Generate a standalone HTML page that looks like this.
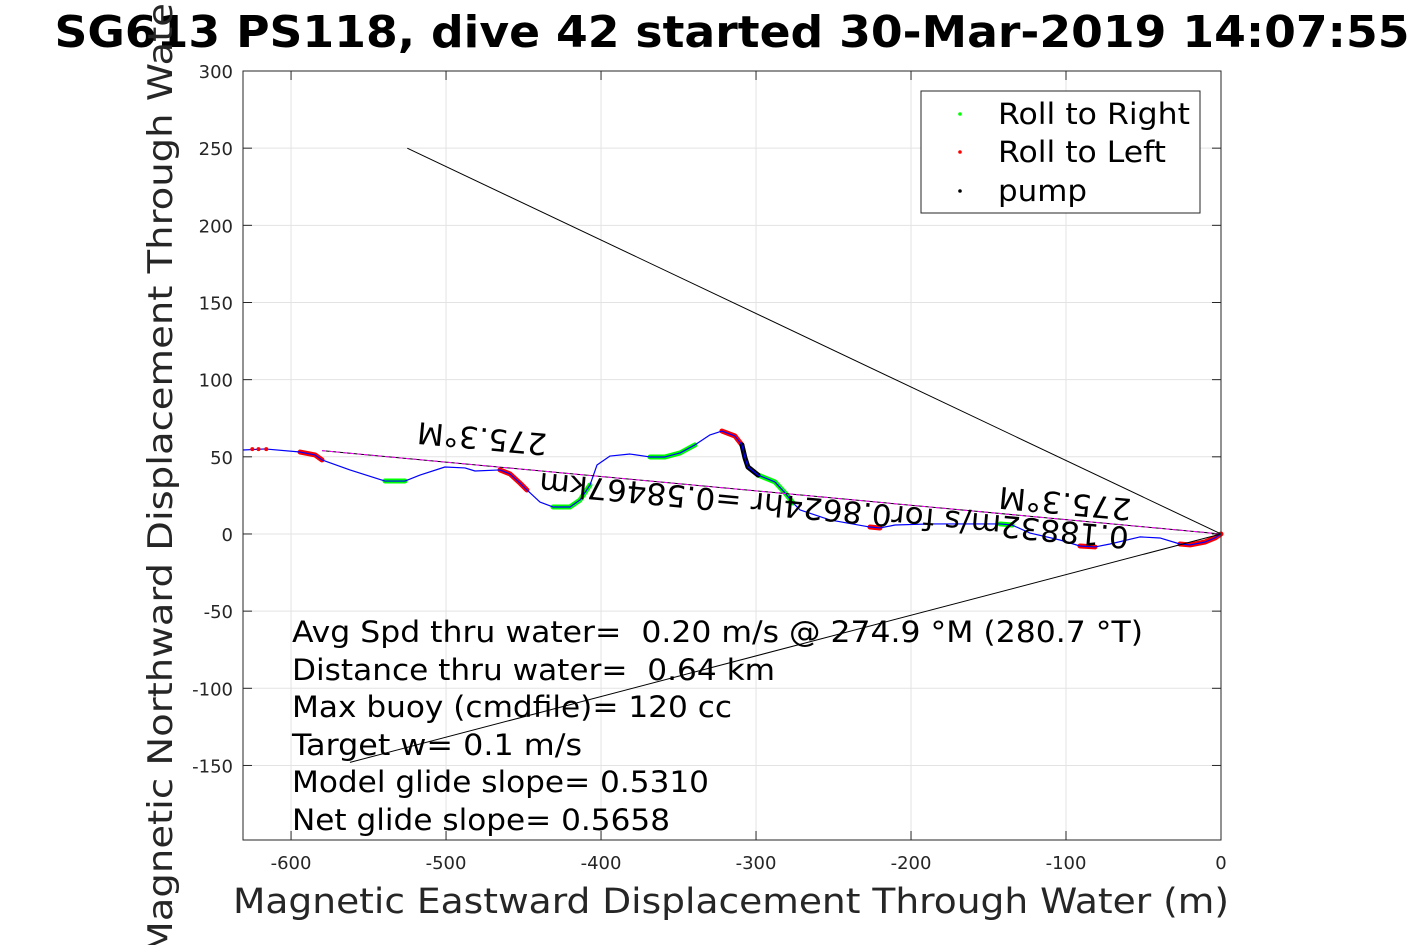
<!DOCTYPE html>
<html><head><meta charset="utf-8"><style>
body{margin:0;background:#fff;}
svg{display:block;font-family:"DejaVu Sans","Liberation Sans",sans-serif;}
</style></head><body>
<svg id="chart" width="1417" height="945" viewBox="0 0 1417 945" xmlns="http://www.w3.org/2000/svg">
<rect width="1417" height="945" fill="#fff"/>
<g id="grid"></g>
<g id="marks"></g>
<rect x="243" y="71" width="978" height="769" fill="none" stroke="#262626" stroke-width="1"/>
<g id="ticks"></g>
<text x="732" y="47" text-anchor="middle" font-size="44" font-weight="bold" textLength="1355" lengthAdjust="spacingAndGlyphs">SG613 PS118, dive 42 started 30-Mar-2019 14:07:55</text>
<text x="731" y="913" text-anchor="middle" font-size="35" fill="#262626" textLength="996" lengthAdjust="spacingAndGlyphs">Magnetic Eastward Displacement Through Water (m)</text>
<text transform="translate(172,437) rotate(-90)" text-anchor="middle" font-size="34" fill="#262626" textLength="1035" lengthAdjust="spacingAndGlyphs">Magnetic Northward Displacement Through Water(m)</text>
<g font-size="29" fill="#000" xml:space="preserve">
<text x="292" y="642" textLength="851" lengthAdjust="spacingAndGlyphs">Avg Spd thru water=&#160; 0.20 m/s @ 274.9 °M (280.7 °T)</text>
<text x="292" y="680" textLength="483" lengthAdjust="spacingAndGlyphs">Distance thru water=&#160; 0.64 km</text>
<text x="292" y="717" textLength="440" lengthAdjust="spacingAndGlyphs">Max buoy (cmdfile)= 120 cc</text>
<text x="292" y="755" textLength="290" lengthAdjust="spacingAndGlyphs">Target w= 0.1 m/s</text>
<text x="292" y="792" textLength="417" lengthAdjust="spacingAndGlyphs">Model glide slope= 0.5310</text>
<text x="292" y="830" textLength="378" lengthAdjust="spacingAndGlyphs">Net glide slope= 0.5658</text>
</g>
<g font-size="30">
<text transform="translate(483,428) rotate(185.3)" text-anchor="middle" textLength="130" lengthAdjust="spacingAndGlyphs">275.3°M</text>
<text transform="translate(1066,493) rotate(185.3)" text-anchor="middle" textLength="133" lengthAdjust="spacingAndGlyphs">275.3°M</text>
<text transform="translate(835,500) rotate(185.3)" text-anchor="middle" textLength="592" lengthAdjust="spacingAndGlyphs">0.18832m/s for0.8624hr =0.58467km</text>
</g>
<g>
<rect x="921" y="91" width="279" height="122" fill="#fff" stroke="#262626"/>
<circle cx="960" cy="114" r="1.8" fill="#0f0"/>
<circle cx="960" cy="152" r="1.8" fill="#f00"/>
<circle cx="960" cy="191" r="1.8" fill="#000"/>
<g font-size="29">
<text x="998" y="124" textLength="192" lengthAdjust="spacingAndGlyphs">Roll to Right</text>
<text x="998" y="162" textLength="168" lengthAdjust="spacingAndGlyphs">Roll to Left</text>
<text x="998" y="201" textLength="89" lengthAdjust="spacingAndGlyphs">pump</text>
</g>
</g>
</svg>
<script>
const xTicks=[-600,-500,-400,-300,-200,-100,0];
const yTicks=[300,250,200,150,100,50,0,-50,-100,-150];
// trajectory (m east, m north)
const trackX=[-631,-616.8,-594.2,-584.5,-580,-562,-539.4,-526.5,-516.8,-500.7,-487.8,-481.3,-465.2,-458.7,-452.3,-447.8,-439.4,-431,-420,-413.6,-407.1,-402.6,-394.2,-381.3,-368.4,-358.7,-349,-339.4,-329.7,-322,-313.6,-309.1,-307.1,-305.2,-298.7,-287.8,-281.3,-276.1,-271.6,-252.3,-226.5,-220,-210.3,-187.7,-142.6,-134.8,-123.2,-103.9,-91,-81.3,-71.6,-52.3,-39.4,-26.5,-20,-10.3,-3.9,0];
const trackY=[54.4,55.1,53.1,51.2,48,41.5,34.3,34.3,38.2,43.4,42.8,40.8,41.5,38.9,33,28.5,20.7,17.5,17.5,22,31.8,44.7,50.5,51.8,49.9,49.9,52.5,57.7,64.2,66.7,63.5,57.7,49.2,43.4,38.2,33.7,26.6,20.1,15.6,9.1,4.5,3.9,5.8,6.5,6.5,5.8,0.6,-3.9,-7.8,-8.4,-6.5,-1.9,-2.6,-6.5,-7.1,-5.2,-2.6,0];
// segment index ranges for roll/pump markers
const rightSeg=[[6,7],[17,20],[24,27],[34,37],[44,45]];
const leftSeg=[[2,4],[12,15],[29,31],[40,41],[48,49],[53,57]];
const pumpSeg=[[31,34]];
const tailDotsX=[-625,-621,-616];
const tailDotsY=[55,55,55];
// reference lines (m)
const currentLine=[[-580,54],[0,0]];
const upperLine=[[-525,250],[0,0]];
const lowerLine=[[-562,-148],[0,0]];
const X0=243,X1=1221,XMIN=-631,XMAX=0,Y0=71,Y1=840,YMAX=300,YMIN=-198.3;
const sx=v=>X0+(v-XMIN)/(XMAX-XMIN)*(X1-X0);
const sy=v=>Y0+(YMAX-v)/(YMAX-YMIN)*(Y1-Y0);
const NS="http://www.w3.org/2000/svg";
const mk=(t,a,p)=>{const e=document.createElementNS(NS,t);for(const k in a)e.setAttribute(k,a[k]);p.appendChild(e);return e;};
const grid=document.getElementById('grid'),ticks=document.getElementById('ticks'),marks=document.getElementById('marks');
xTicks.forEach(v=>{const x=sx(v);
 const g=mk('line',{x1:x,x2:x,y1:Y0,y2:Y1,stroke:'#e3e3e3'},grid);
 
 
 mk('line',{x1:x,x2:x,y1:Y1,y2:Y1-9,stroke:'#262626'},ticks);
 mk('line',{x1:x,x2:x,y1:Y0,y2:Y0+9,stroke:'#262626'},ticks);
 const t=mk('text',{x:x,y:Y1+29,'text-anchor':'middle','font-size':18,fill:'#262626'},ticks);
 t.textContent=v;
 
 
});
yTicks.forEach(v=>{const y=sy(v);
 const g=mk('line',{x1:X0,x2:X1,y1:y,y2:y,stroke:'#e3e3e3'},grid);
 
 
 mk('line',{x1:X0,x2:X0+9,y1:y,y2:y,stroke:'#262626'},ticks);
 mk('line',{x1:X1,x2:X1-9,y1:y,y2:y,stroke:'#262626'},ticks);
 const t=mk('text',{x:X0-10,y:y+7,'text-anchor':'end','font-size':18,fill:'#262626'},ticks);
 t.textContent=v;
 
 
});
const pts=(a,b)=>a.map((v,i)=>sx(v)+','+sy(b[i])).join(' ');
function seg(r,color,w,name){r.forEach(([a,b])=>{
 const p=mk('polyline',{points:pts(trackX.slice(a,b+1),trackY.slice(a,b+1)),fill:'none',stroke:color,'stroke-width':w,'stroke-linejoin':'round','stroke-linecap':'round'},marks);
 
 });}
seg(rightSeg,'#0f0',5,'roll-right-segment');
seg(leftSeg,'#f00',5,'roll-left-segment');
seg(pumpSeg,'#000',5,'pump-segment');
const tr=mk('polyline',{points:pts(trackX,trackY),fill:'none',stroke:'#00f','stroke-width':1.2,'stroke-linejoin':'round'},marks);


tailDotsX.forEach((v,i)=>{const c=mk('circle',{cx:sx(v),cy:sy(tailDotsY[i]),r:2,fill:'#f00'},marks);
 
 });
function ln(l,name,extra){const e=mk('line',Object.assign({x1:sx(l[0][0]),y1:sy(l[0][1]),x2:sx(l[1][0]),y2:sy(l[1][1]),stroke:'#000','stroke-width':1},extra||{}),marks);
 
 }
ln(upperLine,'upper-bound-line');
ln(lowerLine,'lower-bound-line');
ln(currentLine,'current-line');
ln(currentLine,'current-line-dashed',{stroke:'#f0f','stroke-dasharray':'4 3'});
</script>
</body></html>
